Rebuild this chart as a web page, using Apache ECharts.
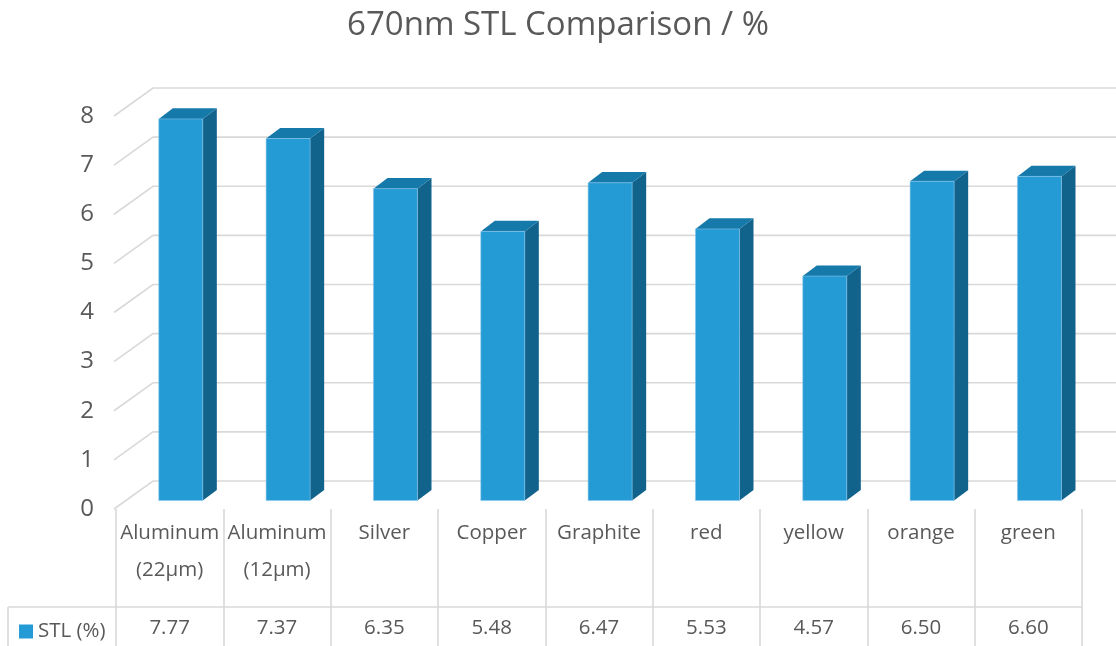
<!DOCTYPE html>
<html>
<head>
<meta charset="utf-8">
<title>670nm STL Comparison</title>
<script src="https://cdn.jsdelivr.net/npm/echarts@6.0.0/dist/echarts.min.js"></script>
<style>
  html, body { margin: 0; padding: 0; background: #ffffff; }
  #chart { width: 1116px; height: 646px; }
</style>
</head>
<body>
<div id="chart"></div>
<script>
// ---- data ----
const categories = ['Aluminum (22µm)', 'Aluminum (12µm)', 'Silver', 'Copper', 'Graphite', 'red', 'yellow', 'orange', 'green'];
const stlValues = [7.77, 7.37, 6.35, 5.48, 6.47, 5.53, 4.57, 6.50, 6.60];
const yTicks = [0, 1, 2, 3, 4, 5, 6, 7, 8];
const seriesName = 'STL (%)';
const titleText = '670nm STL Comparison / %';

// ---- look ----
const FONT = 'Open Sans';
const TEXT = '#595959';
const GRID_LINE = '#D9D9D9';
const FRONT = '#259BD6';
const TOP = '#1579AA';
const SIDE = '#11638C';
const TABLE_FONT = 20.5;

// oblique projection: full depth of the plot box, in pixels
const DX = 37, DY = -28;
const BAR_NEAR = 0.3;      // depth where the bar's front face sits
const BAR_DEPTH = 0.38;    // bar thickness, as a share of full depth
const BAR_WIDTH = 0.41;    // bar width, as a share of a category slot

function renderGridLine(params, api) {
  const cs = params.coordSys;
  const y = api.coord([0, api.value(1)])[1];
  return {
    type: 'polyline',
    shape: { points: [[cs.x - 2, y], [cs.x + DX, y + DY], [cs.x + cs.width + DX + 20, y + DY]] },
    style: { stroke: GRID_LINE, lineWidth: 1.6, fill: null }
  };
}

function renderBar(params, api) {
  const idx = api.value(0);
  const top = api.coord([idx, api.value(1)]);
  const base = api.coord([idx, 0]);
  const w = api.size([1, 0])[0] * BAR_WIDTH;
  const ox = DX * BAR_NEAR, oy = DY * BAR_NEAR;
  const dx = DX * BAR_DEPTH, dy = DY * BAR_DEPTH;
  const x0 = top[0] - w / 2 + ox, x1 = x0 + w;
  const yT = top[1] + oy, yB = base[1] + oy;
  return {
    type: 'group',
    children: [
      { type: 'polygon', shape: { points: [[x1, yT], [x1 + dx, yT + dy], [x1 + dx, yB + dy], [x1, yB]] }, style: { fill: SIDE } },
      { type: 'polygon', shape: { points: [[x0, yT], [x0 + dx, yT + dy], [x1 + dx, yT + dy], [x1, yT]] }, style: { fill: TOP } },
      { type: 'rect', shape: { x: x0, y: yT, width: w, height: yB - yT }, style: { fill: FRONT, stroke: 'rgba(140,200,235,0.7)', lineWidth: 0.8 } }
    ]
  };
}

const chart = echarts.init(document.getElementById('chart'), null, { renderer: 'canvas' });

chart.setOption({
  animation: false,
  backgroundColor: '#ffffff',
  textStyle: { fontFamily: FONT },
  title: {
    text: titleText,
    left: 'center',
    top: 4,
    textStyle: { fontFamily: FONT, fontSize: 33, fontWeight: 'normal', color: TEXT }
  },
  legend: {
    data: [seriesName],
    left: 14,
    top: 616,
    icon: 'rect',
    itemWidth: 14,
    itemHeight: 14,
    itemGap: 5,
    textStyle: { fontFamily: FONT, fontSize: TABLE_FONT, color: TEXT }
  },
  grid: { left: 116, right: 34, top: 116, bottom: 137 },
  xAxis: [
    {
      type: 'category',
      data: categories,
      boundaryGap: true,
      axisLine: { show: false },
      axisTick: { show: true, interval: 0, length: 137, lineStyle: { color: GRID_LINE, width: 1.6 } },
      axisLabel: {
        interval: 0,
        margin: 6,
        fontFamily: FONT,
        fontSize: TABLE_FONT,
        lineHeight: 37,
        color: TEXT,
        formatter: v => v.split(' ').join('\n')
      },
      splitLine: { show: false }
    },
    {
      type: 'category',
      data: stlValues.map(v => v.toFixed(2)),
      position: 'bottom',
      boundaryGap: true,
      axisLine: { show: false },
      axisTick: { show: false },
      axisLabel: { interval: 0, margin: 107, fontFamily: FONT, fontSize: TABLE_FONT, lineHeight: 24, color: TEXT },
      splitLine: { show: false }
    }
  ],
  yAxis: {
    type: 'value',
    min: 0,
    max: 8,
    interval: 1,
    axisLine: { show: false },
    axisTick: { show: false },
    splitLine: { show: false },
    axisLabel: { margin: 22, fontFamily: FONT, fontSize: 24, color: TEXT }
  },
  graphic: [
    { type: 'line', shape: { x1: 8, y1: 607, x2: 1082, y2: 607 }, style: { stroke: GRID_LINE, lineWidth: 1.6 }, silent: true },
    { type: 'line', shape: { x1: 8, y1: 607, x2: 8, y2: 646 }, style: { stroke: GRID_LINE, lineWidth: 1.6 }, silent: true }
  ],
  series: [
    {
      name: 'gridlines',
      type: 'custom',
      renderItem: renderGridLine,
      data: yTicks.map(v => [0, v]),
      encode: { x: 0, y: 1 },
      silent: true,
      z: 1
    },
    {
      name: seriesName,
      type: 'custom',
      renderItem: renderBar,
      itemStyle: { color: FRONT },
      data: stlValues.map((v, i) => [i, v]),
      encode: { x: 0, y: 1 },
      z: 2
    }
  ]
});
</script>
</body>
</html>
